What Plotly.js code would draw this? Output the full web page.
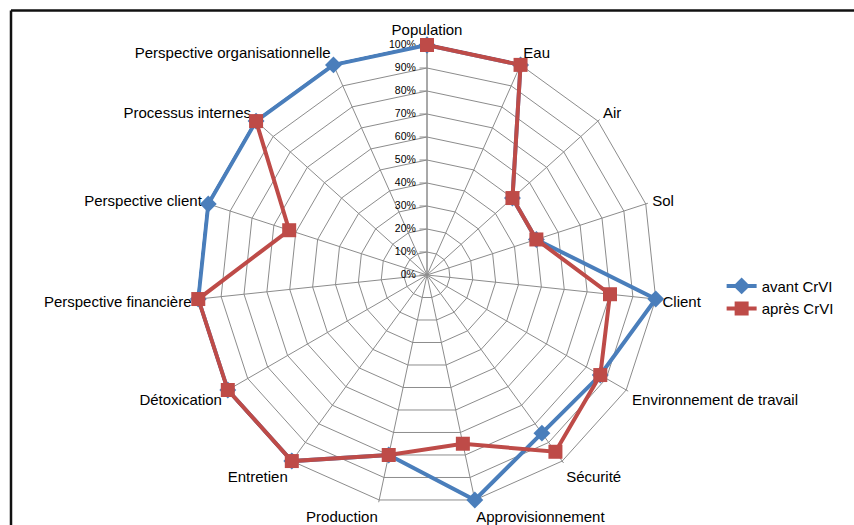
<!DOCTYPE html>
<html>
<head>
<meta charset="utf-8">
<script src="https://cdn.plot.ly/plotly-3.0.1.min.js"></script>
<style>html,body{margin:0;padding:0;background:#fff;}#chart{width:854px;height:525px;}</style>
</head>
<body>
<div id="chart"></div>
<script>
const categories = ["Population","Eau","Air","Sol","Client","Environnement de travail","Sécurité","Approvisionnement","Production","Entretien","Détoxication","Perspective financière","Perspective client","Processus internes","Perspective organisationnelle"];
const avant = [1.00,1.00,0.50,0.50,1.00,0.87,0.85,1.00,0.80,1.00,1.00,1.00,1.00,1.00,1.00];
const apres = [1.00,1.00,0.50,0.50,0.80,0.87,0.95,0.75,0.80,1.00,1.00,1.00,0.63,1.00,null];
const seriesNames = ["avant CrVI","après CrVI"];
const tickVals = [0,0.1,0.2,0.3,0.4,0.5,0.6,0.7,0.8,0.9,1.0];
const tickText = ["0%","10%","20%","30%","40%","50%","60%","70%","80%","90%","100%"];

const closeLoop = a => a.concat([a[0]]);
const thetaClosed = closeLoop(categories);

const FONT = "Liberation Sans, Arial, sans-serif";
const GRID = "#8c8c8c";
const RMAX = 1.01;          // small headroom so lines at 100% are not clipped
const R100 = 230;           // pixel radius of the 100% ring
const CX = 427, CY = 275, W = 854, H = 525;
const RPX = R100 * RMAX;

const traces = [
  {type:"scatterpolar", name:seriesNames[0], r:closeLoop(avant), theta:thetaClosed, mode:"lines+markers",
   line:{color:"#4A7EBB", width:4}, marker:{symbol:"diamond", size:13, color:"#4A7EBB"}, connectgaps:false, cliponaxis:false},
  {type:"scatterpolar", name:seriesNames[1], r:closeLoop(apres), theta:thetaClosed, mode:"lines+markers",
   line:{color:"#BE4B48", width:4}, marker:{symbol:"square", size:14, color:"#BE4B48"}, connectgaps:false, cliponaxis:false}
];

const layout = {
  width:W, height:H,
  margin:{l:0,r:0,t:0,b:0},
  paper_bgcolor:"#fff",
  font:{family:FONT, size:15, color:"#000"},
  showlegend:true,
  legend:{x:0.845, y:0.434, xanchor:"left", yanchor:"middle", font:{family:FONT, size:15, color:"#000"}, bgcolor:"rgba(0,0,0,0)"},
  polar:{
    domain:{x:[(CX-RPX)/W, (CX+RPX)/W], y:[1-(CY+RPX)/H, 1-(CY-RPX)/H]},
    gridshape:"linear",
    bgcolor:"#fff",
    radialaxis:{range:[0,RMAX], tickvals:tickVals, ticktext:tickText, angle:90, side:"counterclockwise",
      showline:true, linecolor:GRID, linewidth:1, gridcolor:GRID, gridwidth:1, layer:"below traces",
      ticks:"outside", ticklen:7, tickcolor:GRID, tickangle:90,
      tickfont:{family:FONT, size:10.5, color:"#000"}},
    angularaxis:{direction:"clockwise", rotation:90, type:"category", layer:"below traces",
      showline:false, gridcolor:GRID, gridwidth:1,
      ticks:"outside", ticklen:1, tickcolor:"rgba(0,0,0,0)",
      tickfont:{family:FONT, size:15, color:"#000"}}
  },
  shapes:[
    {type:"line", xref:"paper", yref:"paper", x0:11/W, x1:1, y0:1-10.5/H, y1:1-10.5/H, line:{color:"#111", width:2.5}},
    {type:"line", xref:"paper", yref:"paper", x0:11/W, x1:11/W, y0:1-10.5/H, y1:0, line:{color:"#111", width:2.5}}
  ]
};

Plotly.newPlot("chart", traces, layout, {displayModeBar:false, staticPlot:true});
</script>
</body>
</html>
